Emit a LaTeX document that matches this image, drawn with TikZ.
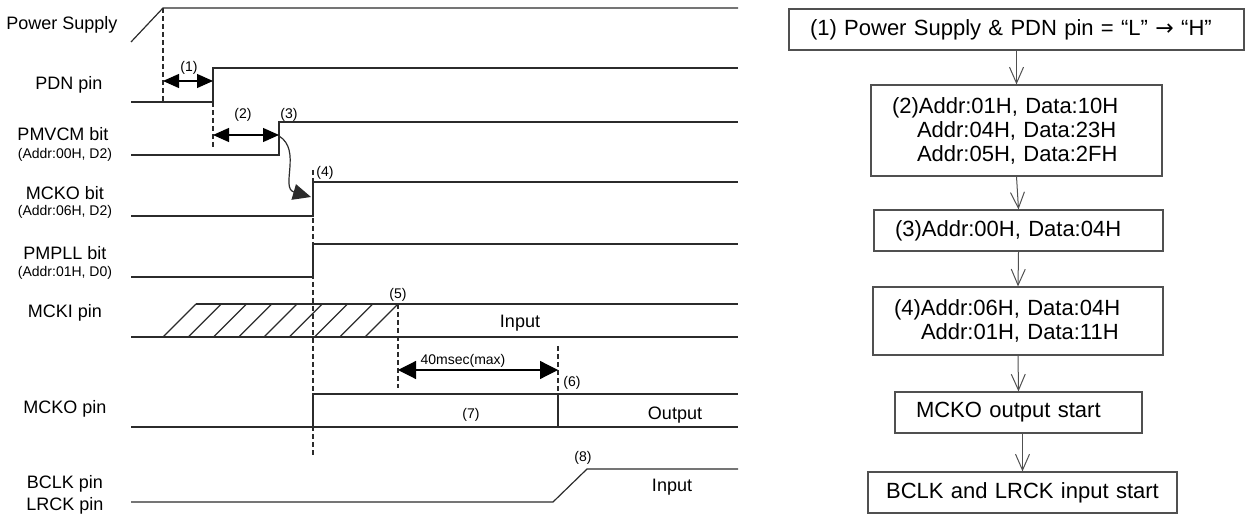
\documentclass[tikz,border=0pt]{standalone}
\usepackage{fontspec}
\setmainfont{Liberation Sans}
\newfontfamily\arrowfont{DejaVu Sans}
\usetikzlibrary{arrows.meta, positioning}
\definecolor{linegray}{HTML}{2B2B2B}
\definecolor{boxgray}{HTML}{505050}
\tikzset{
    sig/.style={
        line width=0.6pt,
        draw=linegray
    },
    guide/.style={
        line width=0.6pt,
        draw=linegray,
        dash pattern=on 2.5pt off 1.5pt
    },
    siglabel/.style={
        font=\fontsize{9}{11}\selectfont,
        align=center,
        inner sep=0pt
    },
    sublabel/.style={
        font=\fontsize{7}{8}\selectfont,
        inner sep=0pt
    },
    numlabel/.style={
        font=\fontsize{7}{8}\selectfont,
        inner sep=0pt
    },
    dimarrow/.style={
        {Triangle[length=8pt,width=7pt]}-{Triangle[length=8pt,width=7pt]},
        line width=0.6pt,
        draw=black
    },
    flowbox/.style={
        rectangle,
        draw=boxgray,
        line width=0.6pt,
        align=left,
        inner xsep=10.5pt,
        inner ysep=2pt,
        minimum height=20.5pt,
        font=\fontsize{11}{12}\selectfont
    },
    flowarrow/.style={
        -{Straight Barb[length=8pt,width=7pt]},
        line width=0.5pt,
        draw=boxgray
    }
}

\begin{document}
\begin{tikzpicture}[x=0.5pt, y=-0.5pt]
    \useasboundingbox (0,0) rectangle (1245,517);

    % signal names
    \node[siglabel] (ps) at (62,25) {Power Supply};
    \node[siglabel] (pdn) at (69,85) {PDN pin};
    \node[siglabel] (pmvcm) at (63,134) {PMVCM bit};
    \node[sublabel] (pmvcmaddr) at (65,155) {(Addr:00H, D2)};
    \node[siglabel] (mckobit) at (65,193) {MCKO bit};
    \node[sublabel] (mckobitaddr) at (65,212) {(Addr:06H, D2)};
    \node[siglabel] (pmpll) at (65,253) {PMPLL bit};
    \node[sublabel] (pmplladdr) at (65,273) {(Addr:01H, D0)};
    \node[siglabel] (mcki) at (65,313) {MCKI pin};
    \node[siglabel] (mckopin) at (65,409) {MCKO pin};
    \node[siglabel] (bclk) at (65,495) {BCLK pin\\LRCK pin};

    % waveforms
    \draw[sig] (131,42) -- (163,8) -- (738,8);
    \draw[sig] (131,102) -- (213,102) -- (213,68) -- (738,68);
    \draw[sig] (131,155) -- (279,155) -- (279,122) -- (738,122);
    \draw[sig] (131,216) -- (313,216) -- (313,182) -- (738,182);
    \draw[sig] (131,277) -- (313,277) -- (313,244) -- (738,244);
    \draw[sig] (131,337) -- (738,337);
    \draw[sig] (196,304) -- (738,304);
    \foreach \k in {0,...,8}
        \draw[sig] ({163+25.25*\k},337) -- ({196+25.25*\k},304);
    \draw[sig] (131,427) -- (738,427);
    \draw[sig] (313,427) -- (313,394) -- (738,394);
    \draw[sig] (558,394) -- (558,427);
    \draw[sig] (131,502) -- (553,502) -- (587,469) -- (738,469);

    % timing guides
    \draw[guide] (163,8) -- (163,102);
    \draw[guide] (213,102) -- (213,150);
    \draw[guide] (313,170) -- (313,455);
    \draw[guide] (398,304) -- (398,388);
    \draw[guide] (558,346) -- (558,394);

    \draw[dimarrow] (163,81) -- (213,81);
    \draw[dimarrow] (213,135) -- (279,135);
    \draw[dimarrow, {Triangle[length=9pt,width=9pt]}-{Triangle[length=9pt,width=9pt]}] (398,370) -- (558,370);
    \draw[sig, -{Triangle[length=9pt,width=8pt]}] (279,136) .. controls (302,150) and (280,188) .. (311,197);

    \node[numlabel] (t1) at (189,68) {(1)};
    \node[numlabel] (t2) at (243,115) {(2)};
    \node[numlabel] (t3) at (289,115) {(3)};
    \node[numlabel] (t4) at (325,173) {(4)};
    \node[numlabel] (t5) at (398,295) {(5)};
    \node[numlabel] (t6) at (572,383) {(6)};
    \node[numlabel] (t7) at (471,415) {(7)};
    \node[numlabel] (t8) at (583,458) {(8)};
    \node[numlabel] (tmax) at (463,361) {40msec(max)};
    \node[siglabel] (mckiin) at (520,323) {Input};
    \node[siglabel] (mckoout) at (675,415) {Output};
    \node[siglabel] (bclkin) at (672,487) {Input};

    % flow
    \node[flowbox, text width=206.5pt] (s1) at (1016.5,29.5) {(1) Power Supply \& PDN pin = “L” {\arrowfont →} “H”};
    \node[flowbox, text width=124.5pt, minimum height=45.5pt] (s2) at (1016.5,130.5)
        {(2)Addr:01H, Data:10H\\\hspace*{12.5pt}Addr:04H, Data:23H\\\hspace*{12.5pt}Addr:05H, Data:2FH};
    \node[flowbox, text width=123.5pt] (s3) at (1018.5,230.5) {(3)Addr:00H, Data:04H};
    \node[flowbox, text width=124pt, minimum height=34pt] (s4) at (1018,321)
        {(4)Addr:06H, Data:04H\\\hspace*{13.5pt}Addr:01H, Data:11H};
    \node[flowbox, text width=102.5pt] (s5) at (1018.5,412.5) {MCKO output start};
    \node[flowbox, text width=140pt, inner xsep=7.25pt, align=center] (s6) at (1022.5,492.5) {BCLK and LRCK input start};

    \draw[flowarrow] (s1.south) -- (s2.north);
    \draw[flowarrow] (s2.south) -- (s3.north);
    \draw[flowarrow] (s3.south) -- (s4.north);
    \draw[flowarrow] (s4.south) -- (s5.north);
    \draw[flowarrow] (s6.north |- s5.south) -- (s6.north);
\end{tikzpicture}
\end{document}
